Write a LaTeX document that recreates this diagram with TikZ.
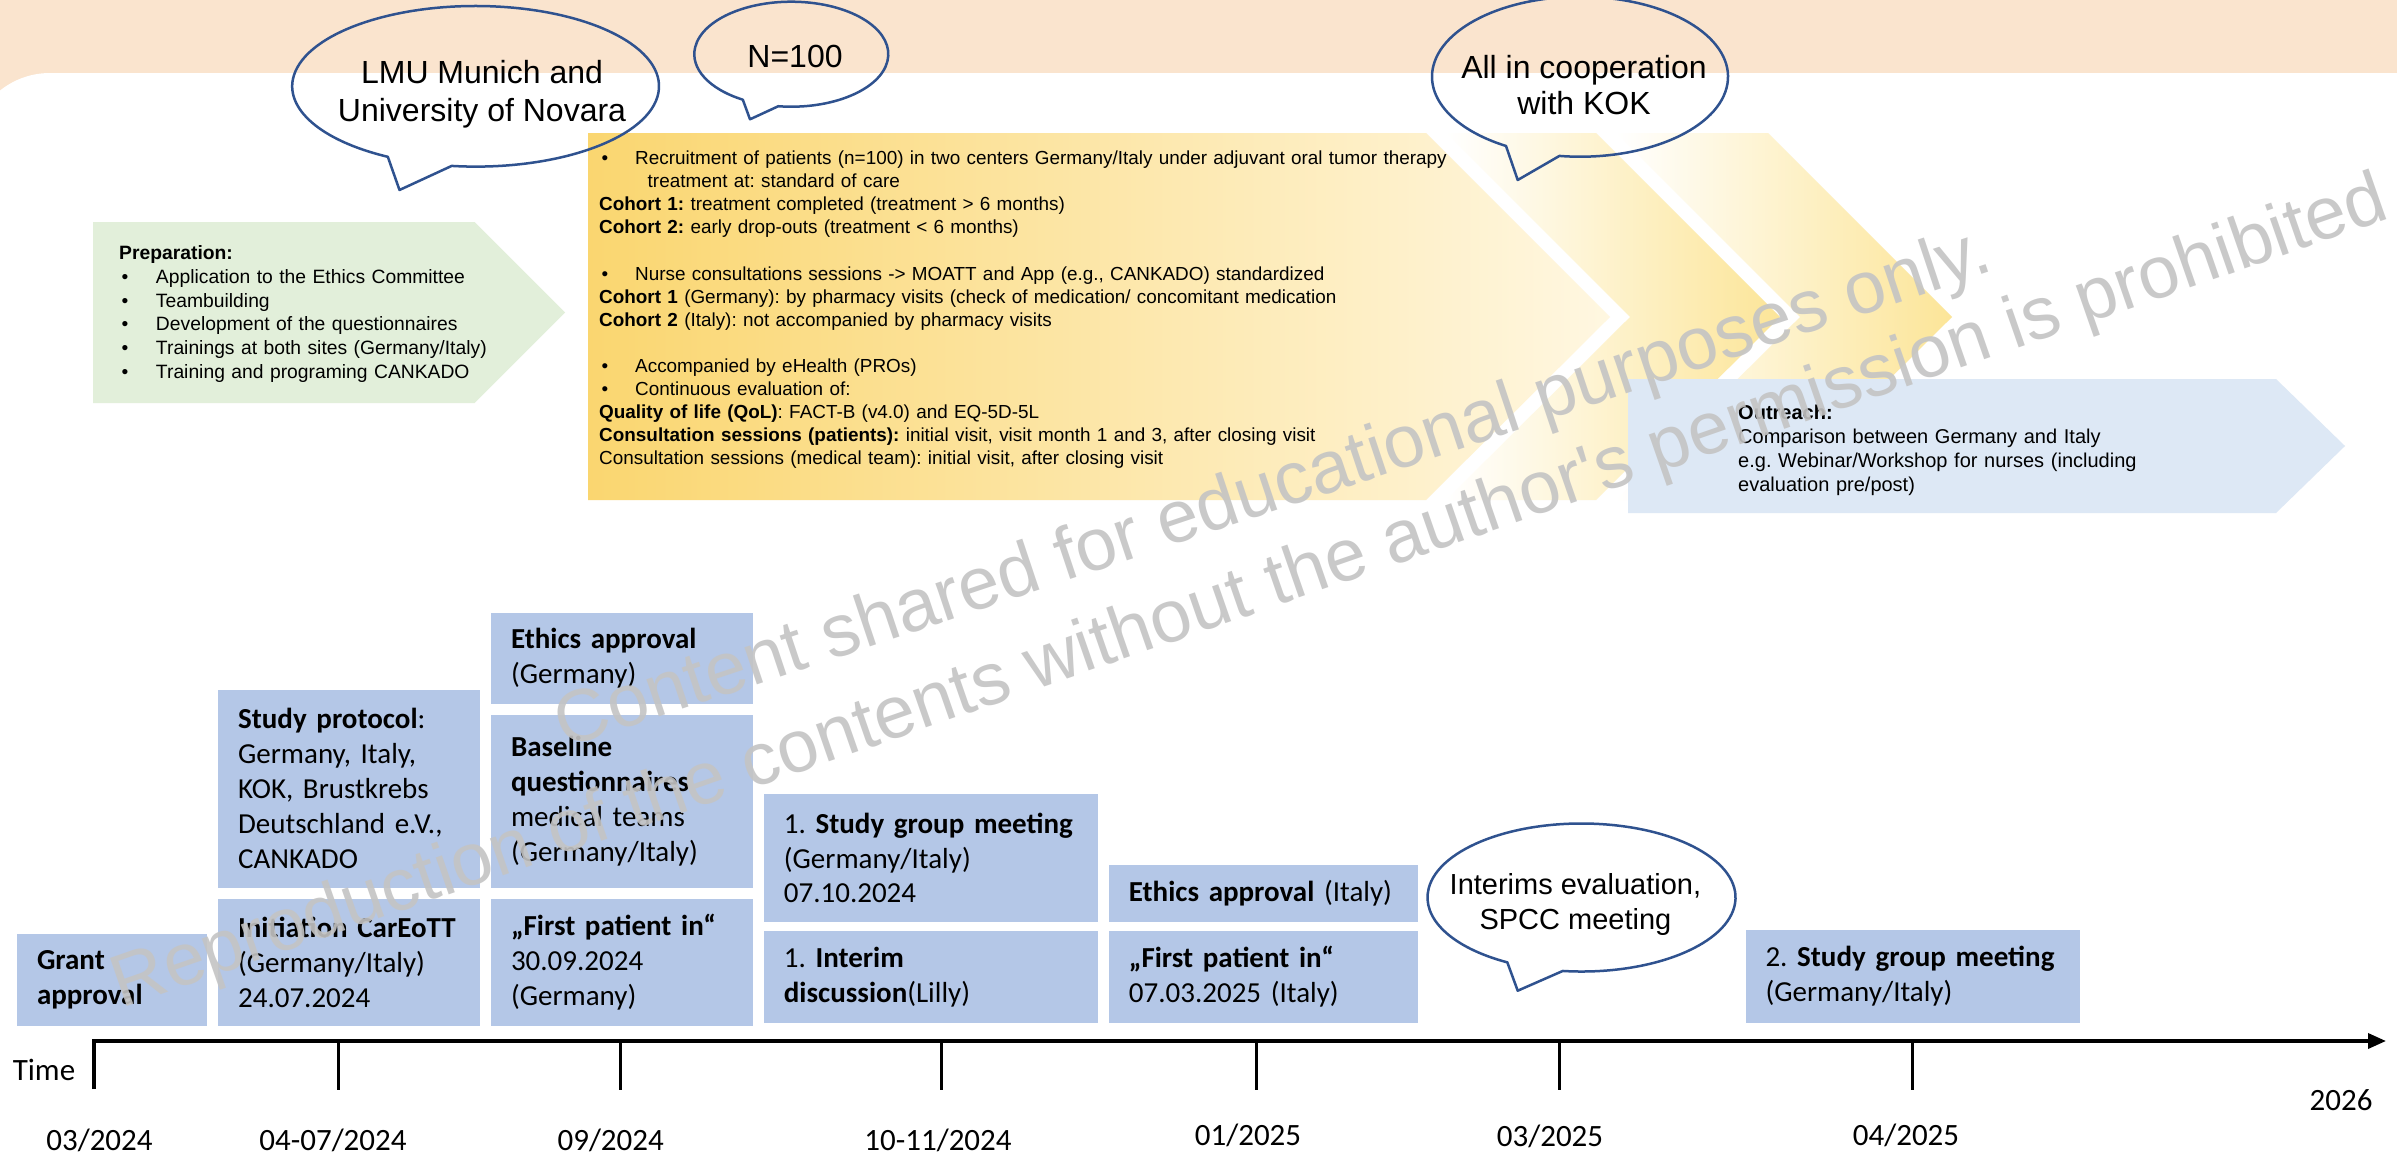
\documentclass[tikz,border=0pt]{standalone}
\usepackage{fontspec}
\setmainfont{Carlito}
\newfontfamily\arialf{Liberation Sans}
\usetikzlibrary{arrows.meta,calc}
\frenchspacing
\definecolor{peach}{RGB}{250,228,206}
\definecolor{tlblue}{RGB}{180,199,231}
\definecolor{chgreen}{RGB}{226,239,218}
\definecolor{chblue}{RGB}{221,232,245}
\definecolor{yelA}{RGB}{250,214,112}
\definecolor{yelAr}{RGB}{255,247,225}
\definecolor{yelTip}{RGB}{252,229,152}
\definecolor{bubblue}{RGB}{47,82,143}
\definecolor{wmgray}{RGB}{196,196,196}
\newcommand\cvYel{\arialf\fontsize{18.9}{23.1}\selectfont}
\newcommand\cvGrn{\arialf\fontsize{19.3}{23.7}\selectfont}
\newcommand\cvBlu{\arialf\fontsize{20}{24.1}\selectfont}
\newcommand\tlFont{\fontsize{29}{34.9}\selectfont}
\newcommand\axFont{\fontsize{31}{37}\selectfont}
\newcommand\wmFont{\arialf\fontsize{74}{81}\selectfont}
\newcommand\bulx[1]{\hspace*{2.5pt}\makebox[#1][l]{•}}
% cx cy a b t1 t2 tipname
\newcommand\speechbub[7]{%
  \draw[bubline] ($(#1,#2)+(#5:#3 and #4)$) -- (#7) -- ($(#1,#2)+(#6:#3 and #4)$)
    arc[start angle=#6, end angle=#5-360, x radius=#3, y radius=#4] -- cycle;}
\begin{document}
\begin{tikzpicture}[x=1pt,y=-1pt,
  chtext/.style={anchor=base west, inner sep=0pt, text width=900pt, align=left},
  tlbox/.style={fill=tlblue, anchor=north west, inner xsep=20pt, inner ysep=0pt, align=left, font=\tlFont},
  axlabel/.style={font=\axFont, inner sep=0pt},
  bubline/.style={draw=bubblue, line width=2.5pt, line join=round},
  bubtext/.style={align=center, inner sep=0pt},
  tick/.style={line width=3pt},
  wm/.style={font=\wmFont, text=wmgray, opacity=0.9, inner sep=0pt}]
\useasboundingbox (0,0) rectangle (2397,1156);
\clip (0,0) rectangle (2397,1156);
% background
\fill[peach] (0,0) rectangle (2397,160);
\fill[white, rounded corners=80pt] (-30,73) rectangle (2500,1300);
% chevrons
\path[fill=chgreen] (93,222) -- (474.5,222) -- (565,312.5) -- (474.5,403) -- (93,403) -- cycle;
\path[left color=yelA, right color=yelAr] (588,133) -- (1426,133) -- (1610,317) -- (1426,500) -- (588,500) -- cycle;
\path[left color=white, middle color=white, right color=yelTip] (1446,133) -- (1596,133) -- (1780,317) -- (1596,500) -- (1446,500) -- (1630,317) -- cycle;
\path[left color=white, middle color=white, right color=yelTip] (1616,133) -- (1768,133) -- (1952,317) -- (1768,500) -- (1616,500) -- (1800,317) -- cycle;
\path[fill=chblue] (1628,379) -- (2276,379) -- (2345,446) -- (2276,513) -- (1628,513) -- cycle;
% chevron texts
\node[chtext, font=\cvGrn] (prep) at (119,259.6) {\textbf{Preparation:}\\
\bulx{34.3pt}Application to the Ethics Committee\\
\bulx{34.3pt}Teambuilding\\
\bulx{34.3pt}Development of the questionnaires\\
\bulx{34.3pt}Trainings at both sites (Germany/Italy)\\
\bulx{34.3pt}Training and programing CANKADO};
\node[chtext, font=\cvYel] (recr) at (599,164.6) {\bulx{33.5pt}Recruitment of patients (n=100) in two centers Germany/Italy under adjuvant oral tumor therapy\\
\hspace*{48.5pt}treatment at: standard of care\\
\textbf{Cohort 1:} treatment completed (treatment > 6 months)\\
\textbf{Cohort 2:} early drop-outs (treatment < 6 months)\\
\mbox{}\\
\bulx{33.5pt}Nurse consultations sessions -> MOATT and App (e.g., CANKADO) standardized\\
\textbf{Cohort 1} (Germany): by pharmacy visits (check of medication/ concomitant medication\\
\textbf{Cohort 2} (Italy): not accompanied by pharmacy visits\\
\mbox{}\\
\bulx{33.5pt}Accompanied by eHealth (PROs)\\
\bulx{33.5pt}Continuous evaluation of:\\
\textbf{Quality of life (QoL)}: FACT-B (v4.0) and EQ-5D-5L\\
\textbf{Consultation sessions (patients):} initial visit, visit month 1 and 3, after closing visit\\
Consultation sessions (medical team): initial visit, after closing visit};
\node[chtext, font=\cvBlu] (outr) at (1738,419) {\textbf{Outreach:}\\
Comparison between Germany and Italy\\
e.g. Webinar/Workshop for nurses (including\\
evaluation pre/post)};
% timeline boxes
\node[tlbox, text width=149.8pt, minimum height=91.8pt] (grant) at (16.8,933.7) {\textbf{Grant}\\\textbf{approval}};
\node[tlbox, text width=221.7pt, minimum height=197.9pt] (proto) at (217.9,689.5) {\textbf{Study protocol}:\\Germany, Italy,\\KOK, Brustkrebs\\Deutschland e.V.,\\CANKADO};
\node[tlbox, text width=221.7pt, minimum height=127.1pt] (init) at (217.9,898.4) {\textbf{Initiation CarEoTT}\\(Germany/Italy)\\24.07.2024};
\node[tlbox, text width=221.8pt, minimum height=91.9pt] (ethde) at (490.8,612.3) {\textbf{Ethics approval}\\(Germany)};
\node[tlbox, text width=221.8pt, minimum height=172.2pt] (base) at (490.8,715.2) {\textbf{Baseline}\\\textbf{questionnaires}\\medical teams\\(Germany/Italy)};
\node[tlbox, text width=221.8pt, minimum height=127.1pt] (fpde) at (490.8,898.4) {\textbf{„First patient in“}\\30.09.2024\\(Germany)};
\node[tlbox, text width=294.1pt, minimum height=127.6pt] (sg1) at (763.7,794) {1. \textbf{Study group meeting}\\(Germany/Italy)\\07.10.2024};
\node[tlbox, text width=294.1pt, minimum height=91.8pt] (interim) at (763.7,930.8) {1. \textbf{Interim}\\\textbf{discussion}(Lilly)};
\node[tlbox, text width=268.8pt, minimum height=56.6pt] (ethit) at (1108.7,865) {\textbf{Ethics approval} (Italy)};
\node[tlbox, text width=268.8pt, minimum height=91.8pt] (fpit) at (1108.7,930.8) {\textbf{„First patient in“}\\07.03.2025 (Italy)};
\node[tlbox, text width=294.5pt, minimum height=92.3pt] (sg2) at (1745.3,930) {2. \textbf{Study group meeting}\\(Germany/Italy)};
% axis
\coordinate (axL) at (94,1089);
\coordinate (ax0) at (94,1041);
\coordinate (axend) at (2386,1041);
\draw[line width=3.5pt, line join=miter, -{Triangle[length=18pt,width=15pt]}] (axL) -- (ax0) -- (axend);
\foreach \tx in {338,620.4,941.6,1256.8,1559.3,1912.6}
  \draw[tick] (\tx,1041) -- (\tx,1090);
\node[axlabel] (ltime) at (44,1070) {Time};
\node[axlabel] (l1) at (99.5,1140) {03/2024};
\node[axlabel] (l2) at (333,1140) {04-07/2024};
\node[axlabel] (l3) at (610.7,1140) {09/2024};
\node[axlabel] (l4) at (938,1140) {10-11/2024};
\node[axlabel] (l5) at (1248,1135) {01/2025};
\node[axlabel] (l6) at (1550,1136) {03/2025};
\node[axlabel] (l7) at (1906,1135) {04/2025};
\node[axlabel] (l8) at (2341,1100) {2026};
% speech bubbles
\coordinate (lmutip) at (399.5,190);
\coordinate (ntip) at (750,119.3);
\coordinate (koktip) at (1517.7,180);
\coordinate (intip) at (1517.7,990.7);
\speechbub{475.6}{86.3}{183.4}{80.3}{118.6}{97.5}{lmutip}
\speechbub{791.3}{54.2}{97}{52.5}{120}{97.7}{ntip}
\speechbub{1580}{76.7}{148}{80}{120}{98}{koktip}
\speechbub{1581.5}{897.5}{154}{74}{118.8}{97}{intip}
\node[bubtext, font=\arialf\fontsize{32}{38.3}\selectfont] (lmu) at (482,94) {LMU Munich and\\University of Novara};
\node[bubtext, font=\arialf\fontsize{32}{38}\selectfont] (n100) at (795,56.7) {N=100};
\node[bubtext, font=\arialf\fontsize{32}{36.6}\selectfont] (kok) at (1584,85) {All in cooperation\\with KOK};
\node[bubtext, font=\arialf\fontsize{29}{35}\selectfont] (interims) at (1575.4,904) {Interims evaluation,\\SPCC meeting};
% watermark
\node[wm, rotate=18.5] (wm1) at (1274,491.5) {Content shared for educational purposes only.};
\node[wm, rotate=19.2] (wm2) at (1250.5,595) {Reproduction of the contents without the author's permission is prohibited};
\end{tikzpicture}
\end{document}
